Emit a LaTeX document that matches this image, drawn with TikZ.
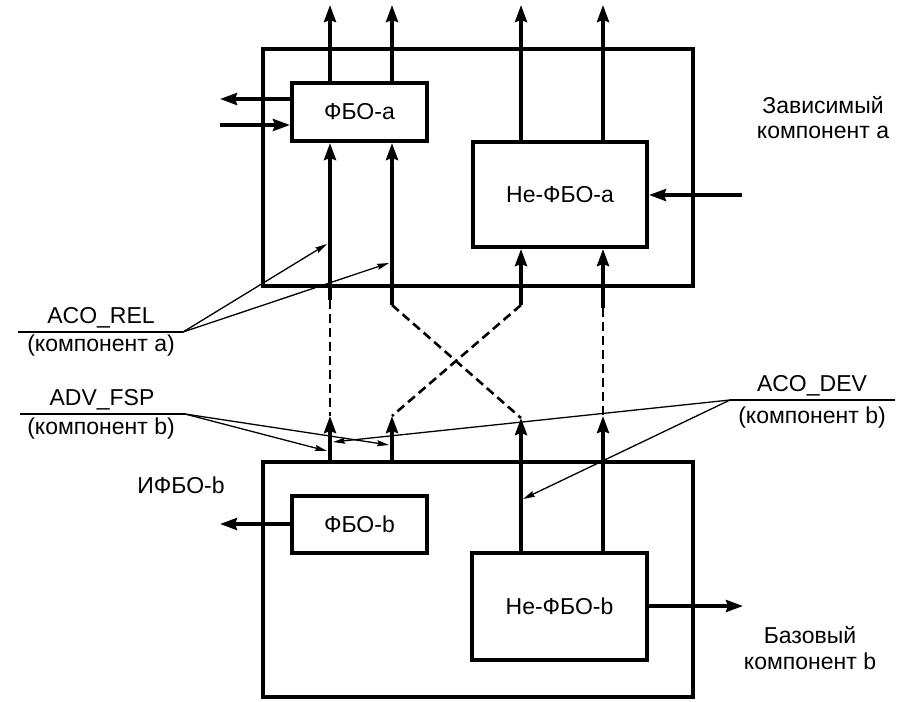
\documentclass[tikz,border=0pt]{standalone}
\usepackage{fontspec}
\setmainfont{Liberation Sans}
\usetikzlibrary{arrows.meta}
\begin{document}
\begin{tikzpicture}[x=1pt,y=-1pt,
  box/.style={draw, line width=4pt, inner sep=0pt, font=\fontsize{23}{27}\selectfont},
  lbl/.style={font=\fontsize{23}{27}\selectfont, inner sep=0pt},
  tarrow/.style={line width=3.5pt, -{Stealth[length=17pt,width=12pt,inset=2pt]}},
  dashlink/.style={line width=2.6pt, dash pattern=on 9pt off 5pt},
  thinline/.style={line width=1.3pt},
  thinarrow/.style={line width=1.3pt, -{Stealth[length=12pt,width=6pt,inset=1.5pt]}}
]
\useasboundingbox (0,0) rectangle (912,701);

% boxes
\node[box, minimum width=430pt, minimum height=237pt] (compA) at (478,167.5) {};
\node[box, minimum width=135pt, minimum height=58pt] (fboa) at (359.5,112) {ФБО-a};
\node[box, minimum width=174pt, minimum height=105pt] (nfboa) at (560,194.5) {Не-ФБО-a};
\node[box, minimum width=430pt, minimum height=235pt] (compB) at (478,579.5) {};
\node[box, minimum width=135pt, minimum height=57pt] (fbob) at (359.5,524.5) {ФБО-b};
\node[box, minimum width=175pt, minimum height=107pt] (nfbob) at (559.5,606.5) {Не-ФБО-b};

% component labels
\node[lbl, anchor=base] (zav1) at (823,113) {Зависимый};
\node[lbl, anchor=base] (zav2) at (823,138) {компонент a};
\node[lbl, anchor=base] (baz1) at (810,643) {Базовый};
\node[lbl, anchor=base] (baz2) at (810,669) {компонент b};
\node[lbl, anchor=base] (ifbo) at (181,493) {ИФБО-b};

% top outputs
\coordinate (ta) at (330,5);
\coordinate (tb) at (392,5);
\coordinate (tc) at (521,5);
\coordinate (td) at (603,5);
\draw[tarrow] (fboa.north -| ta) -- (ta);
\draw[tarrow] (fboa.north -| tb) -- (tb);
\draw[tarrow] (nfboa.north -| tc) -- (tc);
\draw[tarrow] (nfboa.north -| td) -- (td);

% side arrows of component a
\coordinate (faout) at (220,99);
\coordinate (fain) at (220,125);
\coordinate (nain) at (742,195);
\draw[tarrow] (fboa.west |- faout) -- (faout);
\draw[tarrow] (fain) -- (fboa.west |- fain);
\draw[tarrow] (nain) -- (nain -| nfboa.east);

% upper inputs
\coordinate (ua) at (330,300);
\coordinate (ub) at (392,305);
\coordinate (uc) at (521,305);
\coordinate (ud) at (603,308);
\draw[tarrow] (ua) -- (fboa.south -| ua);
\draw[tarrow] (ub) -- (fboa.south -| ub);
\draw[tarrow] (uc) -- (nfboa.south -| uc);
\draw[tarrow] (ud) -- (nfboa.south -| ud);

% lower outputs
\coordinate (la) at (330,416);
\coordinate (lb) at (392,416);
\coordinate (lc) at (521,418);
\coordinate (ld) at (603,416);
\draw[tarrow] (compB.north -| la) -- (la);
\draw[tarrow] (compB.north -| lb) -- (lb);
\draw[tarrow] (nfbob.north -| lc) -- (lc);
\draw[tarrow] (nfbob.north -| ld) -- (ld);

% dashed links
\draw[dashlink] (ua) -- (la);
\draw[dashlink] (ub) -- (lc);
\draw[dashlink] (uc) -- (lb);
\draw[dashlink] (ud) -- (ld);

% side arrows of component b
\coordinate (fbout) at (220,524);
\coordinate (nbout) at (743,606);
\draw[tarrow] (fbob.west |- fbout) -- (fbout);
\draw[tarrow] (nfbob.east |- nbout) -- (nbout);

% ACO_REL
\node[lbl, anchor=base] (rel1) at (101,323) {ACO\_REL};
\node[lbl, anchor=base] (rel2) at (101,351) {(компонент a)};
\coordinate (relL) at (18,332);
\coordinate (relJ) at (183,332);
\coordinate (relT1) at (327,244);
\coordinate (relT2) at (389,263);
\draw[thinline] (relL) -- (relJ);
\draw[thinarrow] (relJ) -- (relT1);
\draw[thinarrow] (relJ) -- (relT2);

% ADV_FSP
\node[lbl, anchor=base] (fsp1) at (102,405) {ADV\_FSP};
\node[lbl, anchor=base] (fsp2) at (101,434) {(компонент b)};
\coordinate (fspL) at (20,414);
\coordinate (fspJ) at (185,414);
\coordinate (fspT1) at (327,451);
\coordinate (fspT2) at (389,445);
\draw[thinline] (fspL) -- (fspJ);
\draw[thinarrow] (fspJ) -- (fspT1);
\draw[thinarrow] (fspJ) -- (fspT2);

% ACO_DEV
\node[lbl, anchor=base] (dev1) at (812,391) {ACO\_DEV};
\node[lbl, anchor=base] (dev2) at (812,423) {(компонент b)};
\coordinate (devR) at (895,400);
\coordinate (devJ) at (730,400);
\coordinate (devT1) at (333,442);
\coordinate (devT2) at (523,499);
\draw[thinline] (devR) -- (devJ);
\draw[thinarrow] (devJ) -- (devT1);
\draw[thinarrow] (devJ) -- (devT2);
\end{tikzpicture}
\end{document}
